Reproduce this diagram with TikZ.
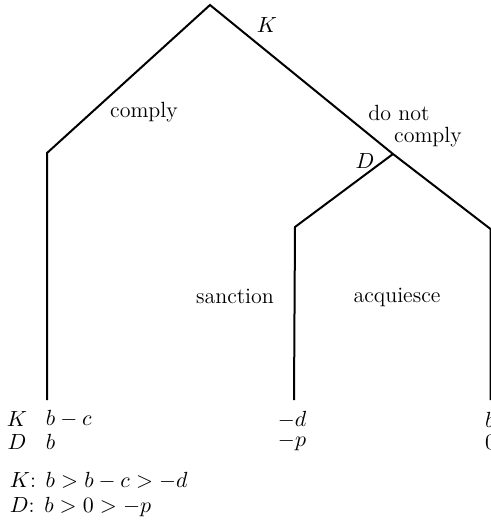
\documentclass[tikz,border=0pt]{standalone}
\usepackage{amsmath,amssymb}
\usepackage{tikz}
\usetikzlibrary{positioning}

\begin{document}
\begin{tikzpicture}[x=0.5pt, y=-0.5pt, line width=1pt,
    font=\fontsize{11}{13}\selectfont,
    lbl/.style={inner sep=0pt},
    pay/.style={inner sep=0pt, anchor=west}]
    \useasboundingbox (0,0) rectangle (491,520);
    \clip (0,0) rectangle (491,520);
    % tree points
    \coordinate (root) at (210,5);
    \coordinate (lc) at (47,153);
    \coordinate (le) at (47,400);
    \coordinate (dn) at (393,154);
    \coordinate (mc) at (295,227);
    \coordinate (me) at (294,400);
    \coordinate (rc) at (490.5,229);
    \coordinate (re) at (490.5,400);
    \draw (le) -- (lc) -- (root) -- (dn) -- (rc) -- (re);
    \draw (dn) -- (mc) -- (me);
    % move labels
    \node[lbl] (k) at (267,25) {$K$};
    \node[lbl] (cmp) at (144,112) {comply};
    \node[lbl] (dnt) at (399,113) {do not};
    \node[lbl] (dnc) at (428,137) {comply};
    \node[lbl] (d) at (365,161) {$D$};
    \node[lbl] (snc) at (235,296) {sanction};
    \node[lbl] (acq) at (397,297) {acquiesce};
    % payoffs
    \node[lbl] (pk) at (17,419) {$K$};
    \node[lbl] (pd) at (17,442) {$D$};
    \node[pay] (k1) at (45,419) {$b-c$};
    \node[pay] (d1) at (45,442) {$b$};
    \node[lbl] (k2) at (292,420) {$-d$};
    \node[lbl] (d2) at (292,442) {$-p$};
    \node[pay] (k3) at (484,420) {$b$};
    \node[pay] (d3) at (484,442) {$0$};
    % preferences
    \node[pay] (prk) at (9,481) {$K$: $b>b-c>-d$};
    \node[pay] (prd) at (9,507) {$D$: $b>0>-p$};
\end{tikzpicture}
\end{document}
